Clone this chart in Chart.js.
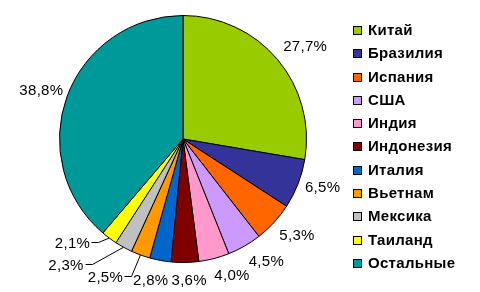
<!DOCTYPE html>
<html>
<head>
<meta charset="utf-8">
<script src="https://cdn.jsdelivr.net/npm/chart.js@4/dist/chart.umd.min.js"></script>
<style>
  html, body { margin: 0; padding: 0; background: #fff; }
  #wrap { position: relative; width: 480px; height: 292px; }
  #pieChart { position: absolute; left: 0; top: 0; }
  #legend { position: absolute; left: 353px; top: 18px; margin: 0; padding: 0; list-style: none;
            font: bold 15px Arial, "Liberation Sans", sans-serif; letter-spacing: 0.3px; color: #000; }
  #legend li { height: 23.3px; line-height: 23.3px; white-space: nowrap; }
  #legend span { display: inline-block; width: 7px; height: 7px; border: 1px solid #000;
                 margin-right: 6px; vertical-align: 0px; }
</style>
</head>
<body>
<div id="wrap">
  <canvas id="pieChart" width="480" height="292"></canvas>
  <ul id="legend"></ul>
</div>
<script>
// данные
const countries = ['Китай', 'Бразилия', 'Испания', 'США', 'Индия', 'Индонезия',
    'Италия', 'Вьетнам', 'Мексика', 'Таиланд', 'Остальные'];
const shares = [27.7, 6.5, 5.3, 4.5, 4.0, 3.6, 2.8, 2.5, 2.3, 2.1, 38.8];
const sliceColors = ['#99CC00', '#333399', '#FF6600', '#CC99FF', '#FF99CC', '#800000',
    '#0066CC', '#FF9900', '#C0C0C0', '#FFFF00', '#009999'];

// подписи раздвинуты, чтобы не налезали друг на друга
const labelShift = {
    'Китай': [9, 2],
    'Бразилия': [0, -7],
    'Испания': [5, -4],
    'США': [11, -5],
    'Индия': [13, -3],
    'Индонезия': [4, 0],
    'Италия': [-6, 1],
    'Вьетнам': [-28, 2],
    'Мексика': [-47, -2],
    'Таиланд': [-23, -14],
    'Остальные': [-1, 2]
};
// эти подписи соединены с сектором линией
const withLeader = ['Вьетнам', 'Мексика', 'Таиланд'];

const outsideLabels = {
    id: 'outsideLabels',
    afterDatasetsDraw(chart) {
        const ctx = chart.ctx;
        const meta = chart.getDatasetMeta(0);
        ctx.save();
        ctx.font = '15px Arial, "Liberation Sans", sans-serif';
        ctx.letterSpacing = '0.3px';
        ctx.fillStyle = '#000';
        ctx.textAlign = 'center';
        ctx.textBaseline = 'alphabetic';
        meta.data.forEach((arc, i) => {
            const mid = (arc.startAngle + arc.endAngle) / 2;
            const ux = Math.cos(mid);
            const uy = Math.sin(mid);
            const text = shares[i].toFixed(1).replace('.', ',') + '%';
            const w = ctx.measureText(text).width;
            const h = 11;
            const r = arc.outerRadius + 17 + 10 * Math.abs(ux);
            const shift = labelShift[countries[i]] || [0, 0];
            const cx = arc.x + ux * r + shift[0];
            const cy = arc.y + uy * r + shift[1];
            if (withLeader.includes(countries[i])) {
                const ex = arc.x + ux * arc.outerRadius;
                const ey = arc.y + uy * arc.outerRadius;
                const right = Math.round(cx + w / 2) + 0.5;
                const ly = Math.round(cy) + 0.5;
                ctx.strokeStyle = '#000';
                ctx.lineWidth = 1;
                ctx.beginPath();
                ctx.moveTo(ex, ey);
                ctx.lineTo(right + 8, ly);
                ctx.lineTo(right + 1, ly);
                ctx.stroke();
            }
            ctx.fillText(text, cx, cy + h / 2);
        });
        ctx.restore();
    }
};

new Chart(document.getElementById('pieChart'), {
    type: 'pie',
    data: {
        labels: countries,
        datasets: [{
            data: shares,
            backgroundColor: sliceColors,
            borderColor: '#000',
            borderWidth: 1
        }]
    },
    options: {
        responsive: false,
        animation: false,
        layout: {
            padding: { left: 59, right: 173, top: 15, bottom: 29 }
        },
        plugins: {
            legend: { display: false },
            tooltip: { enabled: false }
        }
    },
    plugins: [outsideLabels]
});

// легенда справа
const legend = document.getElementById('legend');
countries.forEach((name, i) => {
    const li = document.createElement('li');
    const box = document.createElement('span');
    box.style.background = sliceColors[i];
    li.appendChild(box);
    li.appendChild(document.createTextNode(name));
    legend.appendChild(li);
});
</script>
</body>
</html>
